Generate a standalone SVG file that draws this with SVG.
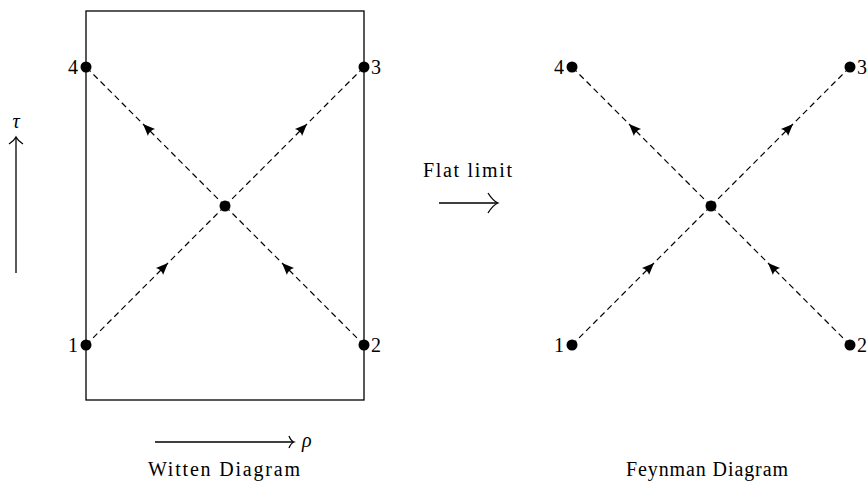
<svg xmlns="http://www.w3.org/2000/svg" width="868" height="481" viewBox="0 0 868 481">
<style>
  .lbl { font-family: "Liberation Serif", "DejaVu Serif", serif; font-size: 20px; fill: #000; }
  .it { font-style: italic; }
  .prop { stroke: #000; stroke-width: 1.2; stroke-dasharray: 6 4; fill: none; }
  .dot { fill: #000; }
  .head { fill: #000; }
  .axis { stroke: #000; stroke-width: 1.3; fill: none; }
</style>
<defs>
  <path id="ah" d="M0,0 L-12,-5 Q-9,0 -12,5 z"/>
</defs>
<rect width="868" height="481" fill="#fff"/>

<g id="witten-boundary">
  <rect x="86" y="11" width="278" height="389" fill="none" stroke="#000" stroke-width="1.3"/>
</g>

<g id="connectors">
  <path class="prop" d="M86,345 L225,206"/>
  <path class="prop" d="M364,345 L225,206"/>
  <path class="prop" d="M225,206 L364,67"/>
  <path class="prop" d="M225,206 L86,67"/>
  <use href="#ah" class="head" transform="translate(168,263) rotate(-45)"/>
  <use href="#ah" class="head" transform="translate(282,263) rotate(-135)"/>
  <use href="#ah" class="head" transform="translate(307,124) rotate(-45)"/>
  <use href="#ah" class="head" transform="translate(143,124) rotate(-135)"/>
  <path class="prop" d="M572,345 L711,206"/>
  <path class="prop" d="M850,345 L711,206"/>
  <path class="prop" d="M711,206 L850,67"/>
  <path class="prop" d="M711,206 L572,67"/>
  <use href="#ah" class="head" transform="translate(654,263) rotate(-45)"/>
  <use href="#ah" class="head" transform="translate(768,263) rotate(-135)"/>
  <use href="#ah" class="head" transform="translate(793,124) rotate(-45)"/>
  <use href="#ah" class="head" transform="translate(629,124) rotate(-135)"/>
</g>

<g id="w1"><circle class="dot" cx="86" cy="345" r="5.5"/><text class="lbl" x="78" y="352" text-anchor="end">1</text></g>
<g id="w2"><circle class="dot" cx="364" cy="345" r="5.5"/><text class="lbl" x="371" y="352">2</text></g>
<g id="w3"><circle class="dot" cx="364" cy="67" r="5.5"/><text class="lbl" x="371" y="74">3</text></g>
<g id="w4"><circle class="dot" cx="86" cy="67" r="5.5"/><text class="lbl" x="78" y="74" text-anchor="end">4</text></g>
<g id="wc"><circle class="dot" cx="225" cy="206" r="5.5"/></g>

<g id="f1"><circle class="dot" cx="572" cy="345" r="5.5"/><text class="lbl" x="564" y="352" text-anchor="end">1</text></g>
<g id="f2"><circle class="dot" cx="850" cy="345" r="5.5"/><text class="lbl" x="857" y="352">2</text></g>
<g id="f3"><circle class="dot" cx="850" cy="67" r="5.5"/><text class="lbl" x="857" y="74">3</text></g>
<g id="f4"><circle class="dot" cx="572" cy="67" r="5.5"/><text class="lbl" x="564" y="74" text-anchor="end">4</text></g>
<g id="fc"><circle class="dot" cx="711" cy="206" r="5.5"/></g>

<g id="tau-axis">
  <path class="axis" d="M16,273 L16,138"/>
  <path class="axis" d="M9,144 Q14,141 16,137 Q18,141 23,144"/>
  <text class="lbl it" x="16" y="128" text-anchor="middle">τ</text>
</g>

<g id="rho-axis">
  <path class="axis" d="M155,442 L293,442"/>
  <path class="axis" d="M289,436 Q291,441 294,442 Q291,443 289,448"/>
  <text class="lbl it" x="302" y="447">ρ</text>
</g>

<g id="flat-limit">
  <text class="lbl" x="423" y="177" textLength="89" lengthAdjust="spacing">Flat limit</text>
  <path class="axis" d="M439,203 L497,203"/>
  <path class="axis" d="M488,193 Q493,201 498,203 Q493,205 488,213"/>
</g>

<g id="captions">
  <text class="lbl" x="148" y="476" textLength="152" lengthAdjust="spacing">Witten Diagram</text>
  <text class="lbl" x="626" y="476" textLength="162" lengthAdjust="spacing">Feynman Diagram</text>
</g>
</svg>
